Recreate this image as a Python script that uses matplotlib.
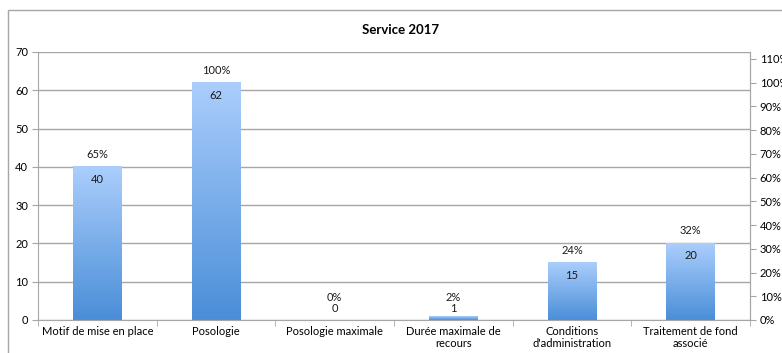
import matplotlib.pyplot as plt
import numpy as np
from matplotlib.colors import LinearSegmentedColormap
from matplotlib.patches import Rectangle

categories = ["Motif de mise en place", "Posologie", "Posologie maximale",
              "Durée maximale de\nrecours", "Conditions\nd'administration",
              "Traitement de fond\nassocié"]
values = [40, 62, 0, 1, 15, 20]
percents = ["65%", "100%", "0%", "2%", "24%", "32%"]
pct_ticks = [0, 10, 20, 30, 40, 50, 60, 70, 80, 90, 100, 110]

plt.rcParams['font.family'] = ['Lato', 'DejaVu Sans']
grey = "#a6a6a6"
fs = 8

fig = plt.figure(figsize=(7.82, 3.53), dpi=100)
ax = fig.add_axes([38 / 782, 33 / 353, 712 / 782, 268 / 353])

# outer chart frame (cut off at right and bottom like the screenshot)
fig.patches.append(Rectangle((8 / 782, -0.2), 1.2, (353 - 10) / 353 + 0.2,
                             transform=fig.transFigure, fill=False,
                             edgecolor=grey, linewidth=1.0))

x = np.arange(len(categories))
width = 0.41
cmap = LinearSegmentedColormap.from_list("grad", ["#4a8ed8", "#abcefc"])
grad = np.linspace(0, 1, 256).reshape(-1, 1)

bars = ax.bar(x, values, width=width, color="none", edgecolor="none", zorder=2)
for b in bars:
    h = b.get_height()
    if h <= 0:
        continue
    x0 = b.get_x()
    ax.imshow(grad, cmap=cmap, origin="lower", aspect="auto",
              extent=[x0, x0 + b.get_width(), 0, h], zorder=2)

for xi, v, p in zip(x, values, percents):
    if v >= 5:
        ax.annotate(str(v), (xi, v), xytext=(0, -9), textcoords="offset points",
                    ha="center", va="center", fontsize=fs, color="#1a1a1a")
        ax.annotate(p, (xi, v), xytext=(0, 9), textcoords="offset points",
                    ha="center", va="center", fontsize=fs, color="#1a1a1a")
    else:
        ax.annotate(str(v), (xi, 0), xytext=(0, 8), textcoords="offset points",
                    ha="center", va="center", fontsize=fs, color="#1a1a1a")
        ax.annotate(p, (xi, 0), xytext=(0, 16), textcoords="offset points",
                    ha="center", va="center", fontsize=fs, color="#1a1a1a")

ax.set_xlim(-0.5, len(categories) - 0.5)
ax.set_ylim(0, 70)
ax.set_yticks(range(0, 71, 10))
ax.yaxis.grid(True, color=grey, linewidth=1.0, zorder=0)
ax.set_axisbelow(True)

ax.set_xticks(x)
ax.set_xticklabels(categories, fontsize=fs)
ax.set_xticks(np.arange(-0.5, len(categories), 1), minor=True)
ax.tick_params(axis="x", which="major", length=0, pad=4)
ax.tick_params(axis="x", which="minor", length=4, color=grey)
ax.tick_params(axis="y", length=4, color=grey, labelsize=fs, pad=3)

ax.spines["top"].set_visible(False)
for s in ["left", "right", "bottom"]:
    ax.spines[s].set_color(grey)

ax2 = ax.twinx()
ax2.set_ylim(0, 70 / 62 * 100)
ax2.set_yticks(pct_ticks)
ax2.set_yticklabels([f"{t}%" for t in pct_ticks])
ax2.tick_params(axis="y", length=4, color=grey, labelsize=fs, pad=3)
for s in ["top", "left", "bottom"]:
    ax2.spines[s].set_visible(False)
ax2.spines["right"].set_color(grey)

fig.text(0.5125, 1 - 30 / 353, "Service 2017", ha="center", va="center",
         fontsize=9.5, fontweight="bold")

fig.savefig("out.png", dpi=100)
